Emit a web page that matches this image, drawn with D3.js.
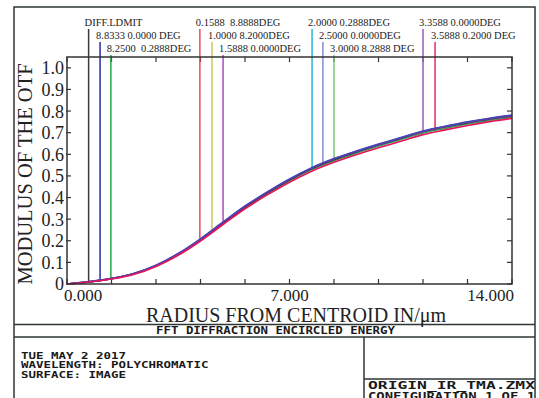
<!DOCTYPE html>
<html>
<head>
<meta charset="utf-8">
<script src="https://cdn.jsdelivr.net/npm/d3@7"></script>
<style>
  body { margin: 0; background: #fff; }
  svg { display: block; }
  .serif { font-family: "Liberation Serif", "Times New Roman", serif; fill: #222; white-space: pre; }
  .mono { font-family: "DejaVu Sans Mono", monospace; font-weight: bold; fill: #1a1a1a; }
</style>
</head>
<body>
<div id="chart"></div>
<script>
// radius samples (um)
var radius = [0, 0.7, 1.4, 2.1, 2.8, 3.5, 4.2, 4.9, 5.6, 6.3, 7.0, 7.7, 8.4, 9.1, 9.8, 10.5, 11.2, 11.9, 12.6, 13.3, 14.0];

// encircled energy per field
var eeGreen  = [0, 0.010, 0.024, 0.046, 0.083, 0.136, 0.203, 0.279, 0.353, 0.418, 0.477, 0.529, 0.570, 0.605, 0.638, 0.668, 0.698, 0.720, 0.740, 0.757, 0.772];
var eeBlack  = [0, 0.010, 0.025, 0.047, 0.085, 0.138, 0.206, 0.282, 0.357, 0.422, 0.482, 0.534, 0.576, 0.611, 0.644, 0.674, 0.705, 0.727, 0.746, 0.763, 0.777];
var eePurple = [0, 0.011, 0.025, 0.048, 0.086, 0.140, 0.208, 0.284, 0.359, 0.424, 0.484, 0.536, 0.578, 0.613, 0.645, 0.675, 0.706, 0.728, 0.748, 0.765, 0.779];
var eeBlue   = [0, 0.011, 0.026, 0.049, 0.087, 0.141, 0.209, 0.286, 0.361, 0.426, 0.486, 0.538, 0.580, 0.615, 0.647, 0.677, 0.708, 0.730, 0.750, 0.767, 0.781];
var eeRed    = [0, 0.009, 0.023, 0.044, 0.081, 0.133, 0.199, 0.274, 0.348, 0.412, 0.471, 0.522, 0.563, 0.598, 0.630, 0.660, 0.691, 0.713, 0.733, 0.751, 0.766];

// field marker lines
var markerLabels = ["DIFF.LDMIT", "8.8333 0.0000 DEG", "8.2500  0.2888DEG",
                    "0.1588  8.8888DEG", "1.0000 8.2000DEG", "1.5888 0.0000DEG",
                    "2.0000 0.2888DEG", "2.5000 0.0000DEG", "3.0000 8.2888 DEG",
                    "3.3588 0.0000DEG", "3.5888 0.2000 DEG"];
var markerRadius = [0.68, 1.04, 1.38, 4.18, 4.56, 4.91, 7.71, 8.05, 8.40, 11.20, 11.58];
var markerEnd    = [0.010, 0.019, 0.026, 0.206, 0.243, 0.280, 0.532, 0.553, 0.574, 0.708, 0.712];
var markerRow    = [0, 1, 2, 0, 1, 2, 0, 1, 2, 0, 1];
var markerColors = ["#3a3a3a", "#2b2ba8", "#22a84a", "#f04858", "#c8c85a", "#b048c0",
                    "#20b8d8", "#8c8ccc", "#78c878", "#9858b8", "#e82868"];

var yTickLabels = ["0", "0.1", "0.2", "0.3", "0.4", "0.5", "0.6", "0.7", "0.8", "0.9", "1.0"];
var xTickLabels = ["0.000", "7.000", "14.000"];

var infoLines = ["TUE MAY 2 2017", "WAVELENGTH: POLYCHROMATIC", "SURFACE: IMAGE"];
var fileLines = ["ORIGIN_IR_TMA.ZMX", "CONFIGURATION 1 OF 1"];

var eeChart = function(el, w, h) {
  var plotL = 67, plotR = 512, plotT = 57, plotB = 284;

  var svg = d3.select(el).append("svg")
    .attr("width", w)
    .attr("height", h);

  var x = d3.scaleLinear().domain([0, 14]).range([plotL, plotR]);
  var y = d3.scaleLinear().domain([0, 1.05]).range([plotB, plotT]);

  var frame = "#2e3636";

  // outer frame + bottom panel
  svg.append("path")
    .attr("d", "M14,400 V7 H535 V400")
    .attr("fill", "none").attr("stroke", frame).attr("stroke-width", 1.5);
  svg.append("line").attr("x1", 14).attr("x2", 535).attr("y1", 324.5).attr("y2", 324.5)
    .attr("stroke", frame).attr("stroke-width", 1.5);
  svg.append("line").attr("x1", 14).attr("x2", 535).attr("y1", 337).attr("y2", 337)
    .attr("stroke", frame).attr("stroke-width", 1.5);
  svg.append("line").attr("x1", 364).attr("x2", 364).attr("y1", 337).attr("y2", 400)
    .attr("stroke", frame).attr("stroke-width", 1.5);
  svg.append("line").attr("x1", 364).attr("x2", 535).attr("y1", 379).attr("y2", 379)
    .attr("stroke", frame).attr("stroke-width", 1.5);

  // ticks, all pointing inward
  var xTicks = d3.range(0, 11).map(function(i) { return i * 1.4; });
  var yTicks = d3.range(0, 11).map(function(i) { return i * 0.1; });

  var axisG = svg.append("g").attr("stroke", "#333").attr("stroke-width", 1.2);
  axisG.selectAll(".xb").data(xTicks).enter().append("line")
    .attr("x1", function(d) { return x(d); }).attr("x2", function(d) { return x(d); })
    .attr("y1", plotB).attr("y2", plotB - 5);
  axisG.selectAll(".xt").data(xTicks).enter().append("line")
    .attr("x1", function(d) { return x(d); }).attr("x2", function(d) { return x(d); })
    .attr("y1", plotT).attr("y2", plotT + 5);
  axisG.selectAll(".yl").data(yTicks).enter().append("line")
    .attr("x1", plotL - 1).attr("x2", plotL + 4)
    .attr("y1", function(d) { return y(d); }).attr("y2", function(d) { return y(d); });
  axisG.selectAll(".yr").data(yTicks).enter().append("line")
    .attr("x1", plotR).attr("x2", plotR - 5)
    .attr("y1", function(d) { return y(d); }).attr("y2", function(d) { return y(d); });

  // marker lines + labels
  var markers = markerLabels.map(function(l, i) {
    return { label: l, r: markerRadius[i], end: markerEnd[i], row: markerRow[i], color: markerColors[i] };
  });

  svg.append("g").selectAll("line").data(markers).enter().append("line")
    .attr("x1", function(d) { return x(d.r); }).attr("x2", function(d) { return x(d.r); })
    .attr("y1", function(d) { return 29 + d.row * 13; })
    .attr("y2", function(d) { return y(d.end); })
    .attr("stroke", function(d) { return d.color; })
    .attr("stroke-width", 1.5);

  svg.append("g").selectAll("text").data(markers).enter().append("text")
    .attr("class", "serif")
    .attr("x", function(d) { return x(d.r) - 4; })
    .attr("y", function(d) { return 25.5 + d.row * 13.3; })
    .attr("font-size", 10.5)
    .text(function(d) { return d.label; });

  // curves
  var series = [
    { v: eeGreen,  c: "#2fa85a" },
    { v: eeBlack,  c: "#222222" },
    { v: eePurple, c: "#8a2a9a" },
    { v: eeBlue,   c: "#4646b8" },
    { v: eeRed,    c: "#e8145a" }
  ];
  var line = d3.line()
    .x(function(d) { return x(d[0]); })
    .y(function(d) { return y(d[1]); })
    .curve(d3.curveMonotoneX);

  svg.append("g").selectAll("path").data(series).enter().append("path")
    .attr("d", function(s) { return line(radius.map(function(r, i) { return [r, s.v[i]]; })); })
    .attr("fill", "none")
    .attr("stroke", function(s) { return s.c; })
    .attr("stroke-width", 1.6);

  // plot frame
  svg.append("rect")
    .attr("x", plotL).attr("y", plotT)
    .attr("width", plotR - plotL).attr("height", plotB - plotT)
    .attr("fill", "none").attr("stroke", "#333").attr("stroke-width", 1.5);

  // y labels
  svg.append("g").selectAll("text").data(yTickLabels).enter().append("text")
    .attr("class", "serif")
    .attr("x", plotL - 3)
    .attr("y", function(d, i) { return y(i * 0.1); })
    .attr("dy", "0.36em")
    .attr("text-anchor", "end")
    .attr("font-size", 18)
    .text(function(d) { return d; });

  // x labels
  svg.append("g").selectAll("text").data(xTickLabels).enter().append("text")
    .attr("class", "serif")
    .attr("x", function(d) { return x(+d); })
    .attr("y", 301)
    .attr("text-anchor", function(d, i) { return i === 0 ? "start" : (i === xTickLabels.length - 1 ? "end" : "middle"); })
    .attr("dx", function(d, i) { return i === 0 ? -3 : (i === xTickLabels.length - 1 ? 2 : 0); })
    .attr("font-size", 17)
    .text(function(d) { return d; });

  svg.append("text")
    .attr("class", "serif")
    .attr("x", 296).attr("y", 321.5)
    .attr("text-anchor", "middle")
    .attr("font-size", 20)
    .text("RADIUS FROM CENTROID IN/\u03bcm");

  svg.append("text")
    .attr("class", "serif")
    .attr("transform", "translate(32,174) rotate(-90)")
    .attr("text-anchor", "middle")
    .attr("font-size", 20.5)
    .text("MODULUS OF THE OTF");

  // bottom panel text
  svg.append("text")
    .attr("class", "mono")
    .attr("x", 156).attr("y", 333.5)
    .attr("font-size", 10)
    .attr("textLength", 239).attr("lengthAdjust", "spacingAndGlyphs")
    .text("FFT DIFFRACTION ENCIRCLED ENERGY");

  svg.append("g").selectAll("text").data(infoLines).enter().append("text")
    .attr("class", "mono")
    .attr("x", 21)
    .attr("y", function(d, i) { return 359 + i * 9.4; })
    .attr("font-size", 9.2)
    .attr("textLength", function(d) { return d.length * 7.5; })
    .attr("lengthAdjust", "spacingAndGlyphs")
    .text(function(d) { return d; });

  svg.append("g").selectAll("text").data(fileLines).enter().append("text")
    .attr("class", "mono")
    .attr("x", 368)
    .attr("y", function(d, i) { return 388.5 + i * 11.5; })
    .attr("font-size", 10.5)
    .attr("textLength", 167)
    .attr("lengthAdjust", "spacingAndGlyphs")
    .text(function(d) { return d; });
};

eeChart("#chart", 539, 398);
</script>
</body>
</html>
